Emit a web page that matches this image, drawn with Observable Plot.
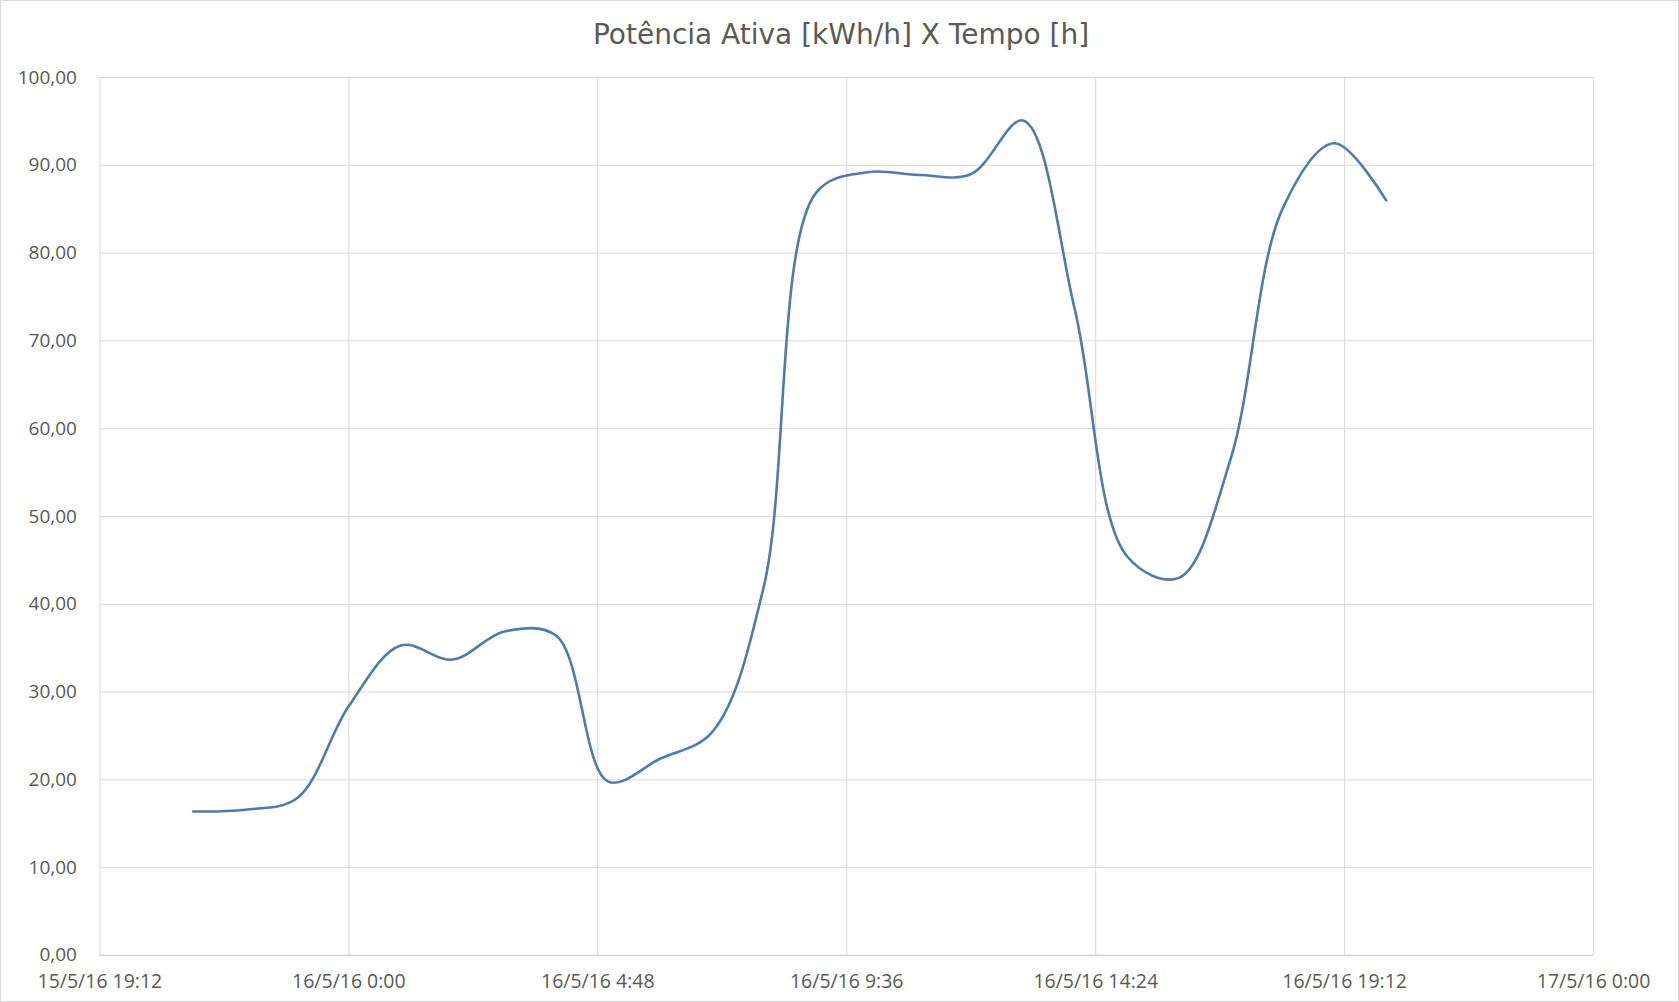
<!DOCTYPE html>
<html>
<head>
<meta charset="utf-8">
<script src="https://cdn.jsdelivr.net/npm/d3@7"></script>
<script src="https://cdn.jsdelivr.net/npm/@observablehq/plot@0.6"></script>
<style>
  html, body { margin: 0; padding: 0; background: #fff; }
  #frame { position: relative; width: 1679px; height: 1002px; box-sizing: border-box; border: 1px solid #d9d9d9; background: #fff; overflow: hidden; }
  #title { position: absolute; left: 0; top: 14px; width: 1680px; text-align: center; font-family: "DejaVu Sans", sans-serif; font-size: 28px; color: #595959; line-height: 40px; }
  #chart { position: absolute; left: -1px; top: 55px; }
</style>
</head>
<body>
<div id="frame">
  <div id="title">Potência Ativa [kWh/h] X Tempo [h]</div>
  <div id="chart"></div>
</div>
<script>
const times = [
  "2016-05-15T21:00", "2016-05-15T22:00", "2016-05-15T23:00",
  "2016-05-16T00:00", "2016-05-16T01:00", "2016-05-16T02:00", "2016-05-16T03:00",
  "2016-05-16T04:00", "2016-05-16T05:00", "2016-05-16T06:00", "2016-05-16T07:00",
  "2016-05-16T08:00", "2016-05-16T09:00", "2016-05-16T10:00", "2016-05-16T11:00",
  "2016-05-16T12:00", "2016-05-16T13:00", "2016-05-16T14:00", "2016-05-16T15:00",
  "2016-05-16T16:00", "2016-05-16T17:00", "2016-05-16T18:00", "2016-05-16T19:00",
  "2016-05-16T20:00"
];
const potencia = [
  16.4, 16.6, 17.9,
  28.4, 35.3, 33.7, 36.9,
  36.4, 19.8, 22.4, 25.4,
  42.0, 86.8, 89.2, 88.9,
  89.0, 95.1, 73.5, 45.5,
  43.0, 56.5, 85.0, 92.5,
  86.0
];
const xTickTimes = [
  "2016-05-15T19:12", "2016-05-16T00:00", "2016-05-16T04:48", "2016-05-16T09:36",
  "2016-05-16T14:24", "2016-05-16T19:12", "2016-05-17T00:00"
];
const xTickLabels = [
  "15/5/16 19:12", "16/5/16 0:00", "16/5/16 4:48", "16/5/16 9:36",
  "16/5/16 14:24", "16/5/16 19:12", "17/5/16 0:00"
];
const yTicks = [0, 10, 20, 30, 40, 50, 60, 70, 80, 90, 100];

const parse = d3.utcParse("%Y-%m-%dT%H:%M");
const data = times.map((t, i) => ({t: parse(t), v: potencia[i]}));
const xTicks = xTickTimes.map(parse);
const labelMap = new Map(xTicks.map((d, i) => [+d, xTickLabels[i]]));

const chart = Plot.plot({
  width: 1680,
  height: 947,
  marginTop: 21,
  marginBottom: 47,
  marginLeft: 99.5,
  marginRight: 85,
  style: {fontFamily: "Open Sans, sans-serif", fontSize: "19.5px", color: "#595959", background: "transparent"},
  x: {type: "utc", domain: [xTicks[0], xTicks[xTicks.length - 1]], ticks: xTicks, tickFormat: d => labelMap.get(+d), label: null},
  y: {domain: [0, 100], ticks: yTicks, tickFormat: d => d.toFixed(2).replace(".", ","), label: null},
  marks: [
    Plot.gridY(yTicks, {stroke: "#d9d9d9", strokeOpacity: 1}),
    Plot.gridX(xTicks, {stroke: "#d9d9d9", strokeOpacity: 1}),
    Plot.ruleY([0], {stroke: "#cfcfcf", strokeWidth: 1.2}),
    Plot.axisX(xTicks, {tickSize: 0, tickPadding: 19, tickFormat: d => labelMap.get(+d), fill: "#595959", label: null}),
    Plot.axisY(yTicks, {tickSize: 0, tickPadding: 23, fontSize: 19, tickFormat: d => d.toFixed(2).replace(".", ","), fill: "#595959", label: null}),
    Plot.lineY(data, {x: "t", y: "v", curve: "catmull-rom", stroke: "#4d7ab2", strokeWidth: 2.6})
  ]
});
document.getElementById("chart").appendChild(chart);
</script>
</body>
</html>
